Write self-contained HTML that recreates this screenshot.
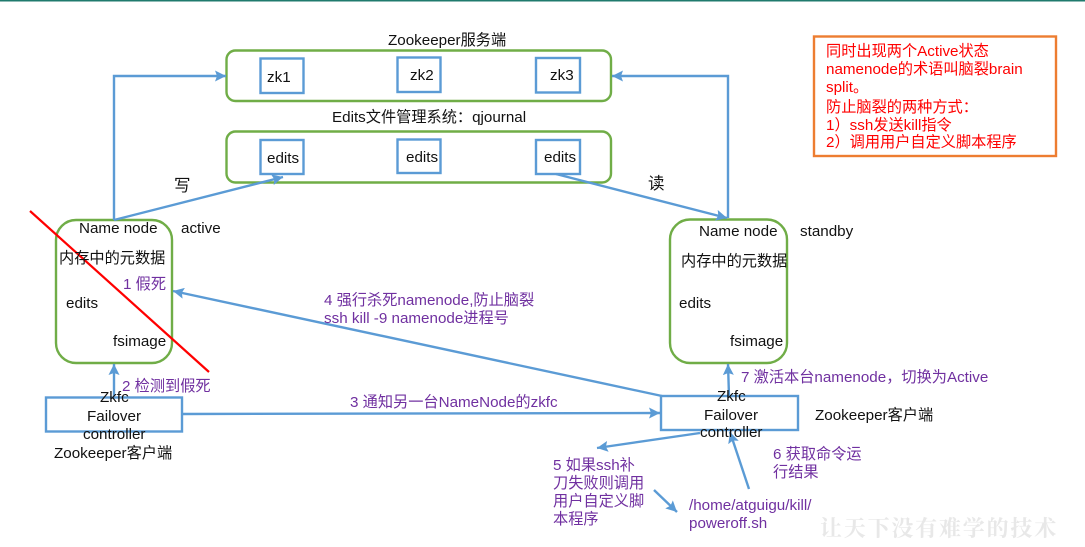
<!DOCTYPE html>
<html><head><meta charset="utf-8"><style>
html,body{margin:0;padding:0;background:#fff;width:1085px;height:547px;overflow:hidden}
svg{display:block}
text{font-family:"Liberation Sans","Noto Sans CJK SC",sans-serif;font-size:15.2px;fill:#111}
.p{fill:#7030a0}.r{fill:#ff0000}
</style></head><body>
<svg width="1085" height="547" viewBox="0 0 1085 547" xmlns="http://www.w3.org/2000/svg">
<defs>
<marker id="a" markerUnits="userSpaceOnUse" markerWidth="12" markerHeight="11" refX="11" refY="5.500" orient="auto"><path d="M0 0L11 5.500L0 11L2 5.500Z" fill="#5b9bd5"/></marker>
</defs>
<rect x="0" y="0" width="1085" height="1.5" fill="#1f7a6d"/>
<g fill="none" stroke="#70ad47" stroke-width="2.4">
<rect x="226.500" y="50.500" width="384.500" height="50.500" rx="9"/>
<rect x="226.500" y="131.500" width="384.500" height="51" rx="9"/>
<rect x="56" y="220" width="116" height="143" rx="20"/>
<rect x="670" y="219.500" width="117" height="143.500" rx="20"/>
</g>
<g fill="none" stroke="#5b9bd5" stroke-width="2.4">
<rect x="260.500" y="58.500" width="43" height="34.500"/>
<rect x="397.500" y="57.500" width="43" height="34.500"/>
<rect x="536" y="58" width="44" height="34.500"/>
<rect x="260.500" y="140" width="43" height="34"/>
<rect x="397.500" y="139.500" width="43" height="33.500"/>
<rect x="536" y="140" width="44" height="34"/>
<rect x="46" y="397.500" width="136" height="34"/>
<rect x="661" y="396" width="137" height="34"/>
<path d="M114 220V76H226" marker-end="url(#a)"/>
<path d="M728 218V76H612" marker-end="url(#a)"/>
<path d="M114 220L283 177" marker-end="url(#a)"/>
<path d="M556 174L727 218" marker-end="url(#a)"/>
<path d="M114 396V364" marker-end="url(#a)"/>
<path d="M182 414L660 413" marker-end="url(#a)"/>
<path d="M662 396L173 291" marker-end="url(#a)"/>
<path d="M729 396L728 364" marker-end="url(#a)"/>
<path d="M700 433L597 448" marker-end="url(#a)"/>
<path d="M749 489L730 432" marker-end="url(#a)"/>
<path d="M654 490L677 512" marker-end="url(#a)"/>
</g>
<path d="M30 211L209 372" stroke="#ff0000" stroke-width="2.2" fill="none"/>
<rect x="814" y="36.500" width="242" height="119.500" fill="none" stroke="#ed7d31" stroke-width="2.4"/>

<text x="388" y="45">Zookeeper服务端</text>
<text x="332" y="122">Edits文件管理系统：qjournal</text>
<text x="267" y="82">zk1</text>
<text x="410" y="80">zk2</text>
<text x="550" y="80">zk3</text>
<text x="267" y="163">edits</text>
<text x="406" y="162">edits</text>
<text x="544" y="162">edits</text>
<text x="174" y="191" style="font-size:16.5px">写</text>
<text x="648" y="189" style="font-size:16.5px">读</text>
<text x="79" y="233">Name node</text>
<text x="181" y="233">active</text>
<text x="59" y="263">内存中的元数据</text>
<text x="66" y="308">edits</text>
<text x="113" y="346">fsimage</text>
<text x="699" y="236">Name node</text>
<text x="800" y="236">standby</text>
<text x="681" y="266">内存中的元数据</text>
<text x="679" y="308">edits</text>
<text x="730" y="346">fsimage</text>
<text x="100" y="402">Zkfc</text>
<text x="87" y="421">Failover</text>
<text x="83" y="439">controller</text>
<text x="54" y="458">Zookeeper客户端</text>
<text x="717" y="401">Zkfc</text>
<text x="704" y="420">Failover</text>
<text x="700" y="437">controller</text>
<text x="815" y="420">Zookeeper客户端</text>

<text class="p" x="123" y="289">1 假死</text>
<text class="p" x="122" y="391">2 检测到假死</text>
<text class="p" x="350" y="407">3 通知另一台NameNode的zkfc</text>
<text class="p" x="324" y="305">4 强行杀死namenode,防止脑裂</text>
<text class="p" x="324" y="323">ssh kill -9 namenode进程号</text>
<text class="p" x="553" y="470">5 如果ssh补</text>
<text class="p" x="553" y="488">刀失败则调用</text>
<text class="p" x="553" y="506">用户自定义脚</text>
<text class="p" x="553" y="524">本程序</text>
<text class="p" x="773" y="459">6 获取命令运</text>
<text class="p" x="773" y="477">行结果</text>
<text class="p" x="741" y="382">7 激活本台namenode，切换为Active</text>
<text class="p" x="689" y="510">/home/atguigu/kill/</text>
<text class="p" x="689" y="528">poweroff.sh</text>

<text class="r" x="826" y="56">同时出现两个Active状态</text>
<text class="r" x="826" y="74">namenode的术语叫脑裂brain</text>
<text class="r" x="826" y="92">split。</text>
<text class="r" x="826" y="112">防止脑裂的两种方式：</text>
<text class="r" x="826" y="130">1）ssh发送kill指令</text>
<text class="r" x="826" y="147">2）调用用户自定义脚本程序</text>

<text x="820" y="536" style="font-size:22px;fill:#e8e8e8;font-family:'Noto Serif CJK SC',serif;font-weight:700;letter-spacing:1.800px">让天下没有难学的技术</text>
</svg>
</body></html>
